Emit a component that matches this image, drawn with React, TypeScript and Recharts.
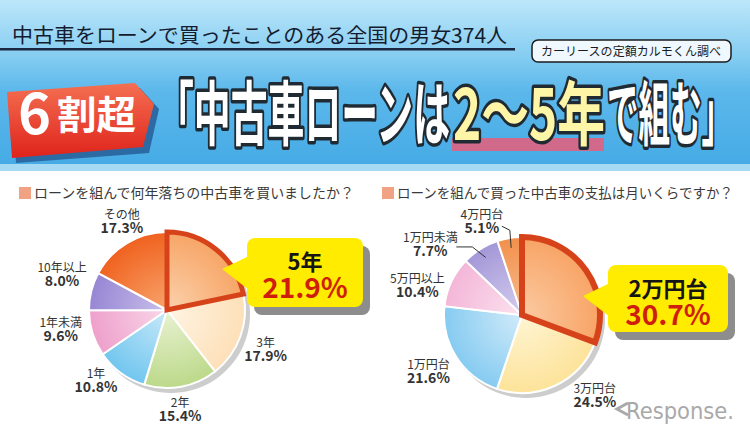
import { PieChart, Pie, Cell } from "recharts";

// Q1: 何年落ちの中古車を買ったか
const ageCategories = ["5年", "3年", "2年", "1年", "1年未満", "10年以上", "その他"];
const ageShares = [21.9, 17.9, 15.4, 10.8, 9.6, 8.0, 17.3];

// Q2: 月々の支払
const payCategories = ["2万円台", "3万円台", "1万円台", "5万円以上", "1万円未満", "4万円台"];
const payShares = [30.7, 24.5, 21.6, 10.4, 7.7, 5.1];

const ageData = ageCategories.map((name, i) => ({ name, value: ageShares[i] }));
const payData = payCategories.map((name, i) => ({ name, value: payShares[i] }));

// [edge, center] colours per slice
const ageColors = [
  ["#f7a566", "#fbd2ad"],
  ["#fde0b8", "#fff4e4"],
  ["#bcd98a", "#e9f2d2"],
  ["#72c6ef", "#c8e9f9"],
  ["#eea0cb", "#f9d7e9"],
  ["#9686d4", "#c9c0ea"],
  ["#f0621f", "#f8a46c"],
];
const payColors = [
  ["#f8a465", "#fbcaa2"],
  ["#fde39a", "#fff5d4"],
  ["#86cbf1", "#d1ebf9"],
  ["#f4b6d8", "#fbe2ef"],
  ["#a497d8", "#d4cdee"],
  ["#f2904c", "#f8bd90"],
];

// label placement: angle nudge (deg), distance from centre, leader style
const ageLabelShift = [0, -1.5, -3, -9, -7, -5, -4];
const ageLabelDist = [0, 106, 100, 100, 108, 111, 100];
const payLabelShift = [0, 17, -1.5, 9, 20, 14];
const payLabelDist = [0, 108, 109, 109, 116, 102];
const payLeader = [0, 0, 0, 0, 2, 1];

const LEFT = { cx: 167, cy: 310, r: 78 };
const RIGHT = { cx: 522, cy: 315, r: 78 };
const RAD = Math.PI / 180;
const FONT = '"Noto Sans CJK JP", "Noto Sans", sans-serif';

function makeLabel(shift: number[], dist: number[], leader?: number[]) {
  return (props: any) => {
    const { cx, cy, midAngle, outerRadius, index, name, value } = props;
    if (index === 0) return <g />;
    const a = (midAngle + shift[index]) * RAD;
    const x = cx + dist[index] * Math.cos(a);
    const y = cy - dist[index] * Math.sin(a);
    const kind = leader ? leader[index] : 0;
    const ex = cx + (outerRadius - 10) * Math.cos(midAngle * RAD);
    const ey = cy - (outerRadius - 10) * Math.sin(midAngle * RAD);
    return (
      <g>
        {kind === 1 && (
          <polyline points={`${x + 20},${y + 5} ${x + 28},${y + 9} ${ex},${ey}`} fill="none" stroke="#333" strokeWidth={1} />
        )}
        {kind === 2 && (
          <polyline points={`${x + 26},${y + 3} ${x + 42},${y + 3} ${ex},${ey}`} fill="none" stroke="#333" strokeWidth={1} />
        )}
        <text x={x} y={y - 2} textAnchor="middle" fontSize={12} fill="#333" fontFamily={FONT}>
          {name}
        </text>
        <text x={x} y={y + 12} textAnchor="middle" fontSize={14} fontWeight={700} fill="#333" fontFamily={FONT}>
          {value.toFixed(1)}%
        </text>
      </g>
    );
  };
}

function Gradients({ id, colors, c }: { id: string; colors: string[][]; c: { cx: number; cy: number; r: number } }) {
  return (
    <>
      {colors.map(([edge, center], i) => (
        <radialGradient key={i} id={`${id}${i}`} gradientUnits="userSpaceOnUse" cx={c.cx} cy={c.cy} r={c.r}>
          <stop offset="0%" stopColor={center} />
          <stop offset="100%" stopColor={edge} />
        </radialGradient>
      ))}
    </>
  );
}

function Callout({ x, y, w, h, title, pct }: { x: number; y: number; w: number; h: number; title: string; pct: string }) {
  const mx = x + w / 2;
  return (
    <g fontFamily={FONT} fontWeight={700}>
      <rect x={x + 7} y={y + 8} width={w} height={h} rx={8} fill="#8d8d8d" />
      <polygon points={`${x + 2},${y + 18} ${x - 25},${y + 31} ${x + 2},${y + 52}`} fill="#ffec00" />
      <rect x={x} y={y} width={w} height={h} rx={8} fill="#ffec00" />
      <text x={mx} y={y + 32} textAnchor="middle" fontSize={22} fill="#151515">
        {title}
      </text>
      <text x={mx} y={y + 60} textAnchor="middle" fontSize={28} fill="#cf1f0c">
        {pct}
      </text>
    </g>
  );
}

const titleStyle = {
  fontSize: 70,
  fontWeight: 700,
  fontFamily: FONT,
  stroke: "#1f2a33",
  strokeWidth: 7,
  strokeLinejoin: "round" as const,
  paintOrder: "stroke" as const,
};

export default function App() {
  return (
    <div style={{ position: "absolute", left: 0, top: 0, width: 750, height: 430, overflow: "hidden", background: "#fff" }}>
      <svg width={750} height={430} style={{ position: "absolute", left: 0, top: 0 }}>
        <defs>
          <linearGradient id="sky" x1="0" y1="0" x2="0" y2="1">
            <stop offset="0%" stopColor="#bce7fa" />
            <stop offset="35%" stopColor="#84ccf1" />
            <stop offset="55%" stopColor="#5cb8eb" />
            <stop offset="100%" stopColor="#46abe5" />
          </linearGradient>
          <linearGradient id="red" x1="0" y1="0" x2="0" y2="1">
            <stop offset="0%" stopColor="#f47052" />
            <stop offset="100%" stopColor="#df231b" />
          </linearGradient>
          <Gradients id="gL" colors={ageColors} c={LEFT} />
          <Gradients id="gR" colors={payColors} c={RIGHT} />
        </defs>
        <rect x={0} y={0} width={750} height={164} fill="url(#sky)" />
        <rect x={0} y={164} width={750} height={7} fill="#a6daf4" />
        <text x={12} y={43} fontSize={20} fill="#141c30" fontFamily={FONT} textLength={495} lengthAdjust="spacingAndGlyphs">
          中古車をローンで買ったことのある全国の男女374人
        </text>
        <rect x={0} y={48} width={515} height={2.5} fill="#1b2640" />
        <rect x={532} y={40} width={199} height={22} rx={6} fill="#eef8fe" stroke="#1b1b1b" strokeWidth={1.5} />
        <text x={631} y={56} textAnchor="middle" fontSize={12} fill="#1b1b1b" fontFamily={FONT} textLength={180} lengthAdjust="spacingAndGlyphs">
          カーリースの定額カルモくん調べ
        </text>
        <polygon points="12,97 140,88 159,109 149,153 16,163" fill="#2c6aa3" />
        <polygon points="7,92 135,83 154,104 143,147 12,158" fill="url(#red)" />
        <text y={134} fill="#fff" fontFamily={FONT} fontWeight={700}>
          <tspan x={18} fontSize={56}>6</tspan>
          <tspan x={57} dy={-5} fontSize={39} textLength={79} lengthAdjust="spacingAndGlyphs">割超</tspan>
        </text>
        <rect x={452} y={138} width={152} height={13} fill="#d0698a" />
        <text x={157} y={140} fill="#ffffff" textLength={293} lengthAdjust="spacingAndGlyphs" style={titleStyle}>
          「中古車ローンは
        </text>
        <text x={453} y={140} fill="#fff5a6" textLength={152} lengthAdjust="spacingAndGlyphs" style={titleStyle}>
          2～5年
        </text>
        <text x={607} y={140} fill="#ffffff" textLength={126} lengthAdjust="spacingAndGlyphs" style={titleStyle}>
          で組む」
        </text>

        <rect x={19} y={187} width={12} height={12} fill="#f1a283" />
        <text x={34} y={198} fontSize={14} fill="#3a3a3a" fontFamily={FONT} textLength={320} lengthAdjust="spacingAndGlyphs">
          ローンを組んで何年落ちの中古車を買いましたか？
        </text>
        <rect x={382} y={187} width={12} height={12} fill="#f1a283" />
        <text x={397} y={198} fontSize={14} fill="#3a3a3a" fontFamily={FONT} textLength={336} lengthAdjust="spacingAndGlyphs">
          ローンを組んで買った中古車の支払は月いくらですか？
        </text>
      </svg>

      <div style={{ position: "absolute", left: 0, top: 0 }}>
        <PieChart width={750} height={430} margin={{ top: 0, right: 0, bottom: 0, left: 0 }}>
          <Pie data={[{ value: 1 }]} dataKey="value" cx={LEFT.cx + 4} cy={LEFT.cy + 4} outerRadius={LEFT.r + 1} fill="#cdcdcd" stroke="none" isAnimationActive={false} />
          <Pie data={[{ value: 1 }]} dataKey="value" cx={RIGHT.cx + 4} cy={RIGHT.cy + 4} outerRadius={RIGHT.r + 1} fill="#cdcdcd" stroke="none" isAnimationActive={false} />
          <Pie
            data={ageData}
            dataKey="value"
            nameKey="name"
            cx={LEFT.cx}
            cy={LEFT.cy}
            outerRadius={LEFT.r}
            startAngle={90}
            endAngle={-270}
            stroke="#fff"
            strokeWidth={2}
            labelLine={false}
            label={makeLabel(ageLabelShift, ageLabelDist)}
            isAnimationActive={false}
          >
            {ageData.map((_, i) => (
              <Cell key={i} fill={`url(#gL${i})`} />
            ))}
          </Pie>
          <Pie
            data={ageData}
            dataKey="value"
            cx={LEFT.cx}
            cy={LEFT.cy}
            outerRadius={LEFT.r}
            startAngle={90}
            endAngle={-270}
            isAnimationActive={false}
          >
            {ageData.map((_, i) => (
              <Cell key={i} fill="none" stroke={i === 0 ? "#d6431b" : "none"} strokeWidth={i === 0 ? 5 : 0} />
            ))}
          </Pie>
          <Pie
            data={payData}
            dataKey="value"
            nameKey="name"
            cx={RIGHT.cx}
            cy={RIGHT.cy}
            outerRadius={RIGHT.r}
            startAngle={90}
            endAngle={-270}
            stroke="#fff"
            strokeWidth={2}
            labelLine={false}
            label={makeLabel(payLabelShift, payLabelDist, payLeader)}
            isAnimationActive={false}
          >
            {payData.map((_, i) => (
              <Cell key={i} fill={`url(#gR${i})`} />
            ))}
          </Pie>
          <Pie
            data={payData}
            dataKey="value"
            cx={RIGHT.cx}
            cy={RIGHT.cy}
            outerRadius={RIGHT.r}
            startAngle={90}
            endAngle={-270}
            isAnimationActive={false}
          >
            {payData.map((_, i) => (
              <Cell key={i} fill="none" stroke={i === 0 ? "#d6431b" : "none"} strokeWidth={i === 0 ? 6 : 0} />
            ))}
          </Pie>
        </PieChart>
      </div>

      <svg width={750} height={430} style={{ position: "absolute", left: 0, top: 0, pointerEvents: "none" }}>
        <Callout x={247} y={238} w={116} h={69} title={ageCategories[0]} pct={`${ageShares[0]}%`} />
        <Callout x={608} y={265} w={120} h={67} title={payCategories[0]} pct={`${payShares[0]}%`} />
        <g fill="#a9a9a9" fontFamily="DejaVu Sans, sans-serif">
          <path d="M 628 403 L 617 409 L 628 415" fill="none" stroke="#a9a9a9" strokeWidth={3} />
          <text x={626} y={419} fontSize={23} textLength={108} lengthAdjust="spacingAndGlyphs">
            Response.
          </text>
        </g>
      </svg>
    </div>
  );
}
